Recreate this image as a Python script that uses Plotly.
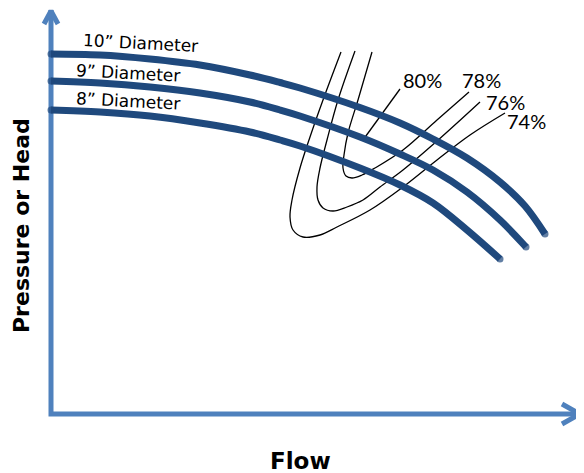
import plotly.graph_objects as go

# ---- data (flow, head in arbitrary chart units) ----
d10_flow = [0, 49, 99, 149, 199, 229, 249, 309, 349, 382, 416, 449, 474, 494]
d10_head = [360, 359, 355, 349, 339, 331.5, 326, 306.5, 291, 275, 256, 232, 208, 180]

d9_flow = [0, 49, 99, 149, 199, 229, 249, 309, 349, 382, 416, 449, 475]
d9_head = [333, 331, 327, 321, 312, 304, 298, 277, 260, 244, 222, 194, 167]

d8_flow = [0, 49, 99, 149, 199, 229, 249, 309, 349, 382, 416, 449]
d8_head = [304, 302, 298, 291, 282, 274, 268, 246, 229, 211, 184, 155]

e78_flow = [321, 307, 297, 293, 292, 295, 301, 311, 324, 352, 386, 418]
e78_head = [362, 314, 281, 259, 246, 238, 236, 239, 246, 264, 294, 322]

e76_flow = [304, 287, 276, 269, 266, 267, 272, 282, 296, 312, 329, 352, 386, 429]
e76_head = [363, 314, 274, 246, 227, 214, 206, 203, 207, 214, 227, 244, 273, 312]

e74_flow = [290, 272, 259, 249, 241, 239, 242, 252, 269, 286, 319, 352, 386, 419, 454]
e74_head = [362, 314, 277, 246, 214, 197, 184, 177, 179, 187, 204, 227, 254, 279, 301]

leader80_flow = [349, 312]
leader80_head = [325, 274]

diam_labels = ["10\u201d Diameter", "9\u201d Diameter", "8\u201d Diameter"]
diam_label_x = [89, 77, 77]
diam_label_y = [371, 341, 313]

eff_labels = ["80%", "78%", "76%", "74%"]
eff_label_x = [371, 430, 454, 475]
eff_label_y = [334, 334, 312, 293]

x_axis_end = 532
y_axis_end = 406

AXIS_C = "#4F81BD"
CURVE_C = "#1F497D"

fig = go.Figure()

# axes with open chevron arrowheads
fig.add_trace(go.Scatter(x=[0, 0, x_axis_end], y=[y_axis_end - 2, 0, 0], mode="lines",
                         line=dict(color=AXIS_C, width=5), hoverinfo="skip"))
fig.add_trace(go.Scatter(x=[-7, 0, 7], y=[y_axis_end - 16, y_axis_end - 3, y_axis_end - 16],
                         mode="lines", line=dict(color=AXIS_C, width=5), hoverinfo="skip"))
fig.add_trace(go.Scatter(x=[x_axis_end - 21, x_axis_end - 3, x_axis_end - 21], y=[10, 0, -10],
                         mode="lines", line=dict(color=AXIS_C, width=5), hoverinfo="skip"))

# efficiency curves
for fx, hy in [(e78_flow, e78_head), (e76_flow, e76_head), (e74_flow, e74_head)]:
    fig.add_trace(go.Scatter(x=fx, y=hy, mode="lines", line=dict(color="black", width=1.3, shape="spline"),
                             hoverinfo="skip"))
fig.add_trace(go.Scatter(x=leader80_flow, y=leader80_head, mode="lines",
                         line=dict(color="black", width=1.3), hoverinfo="skip"))

# pump curves (round caps emulated with end markers)
for fx, hy in [(d10_flow, d10_head), (d9_flow, d9_head), (d8_flow, d8_head)]:
    sizes = [7] + [0] * (len(fx) - 2) + [7]
    fig.add_trace(go.Scatter(x=fx, y=hy, mode="lines+markers",
                             line=dict(color=CURVE_C, width=7, shape="spline"),
                             marker=dict(color=CURVE_C, size=sizes, line=dict(width=0)),
                             hoverinfo="skip"))

annotations = []
for t, x, y in zip(diam_labels, diam_label_x, diam_label_y):
    annotations.append(dict(x=x, y=y, text=t, showarrow=False, textangle=3,
                            font=dict(family="DejaVu Sans", size=17, color="black")))
for t, x, y in zip(eff_labels, eff_label_x, eff_label_y):
    annotations.append(dict(x=x, y=y, text=t, showarrow=False,
                            font=dict(family="Lato", size=20, color="black")))
annotations.append(dict(x=-30, y=188, text="<b>Pressure or Head</b>", showarrow=False, textangle=-90,
                        font=dict(family="DejaVu Sans", size=22, color="black")))
annotations.append(dict(x=249, y=-47, text="<b>Flow</b>", showarrow=False,
                        font=dict(family="DejaVu Sans", size=23, color="black")))

# page body adds an 8px offset; figure is sized/ranged to compensate
fig.update_layout(
    width=576, height=465,
    margin=dict(l=0, r=0, t=0, b=0),
    paper_bgcolor="white", plot_bgcolor="white",
    showlegend=False,
    xaxis=dict(range=[-43, 533], visible=False, fixedrange=True),
    yaxis=dict(range=[-59, 406], visible=False, fixedrange=True),
    annotations=annotations,
)

fig.write_html("out.html")
